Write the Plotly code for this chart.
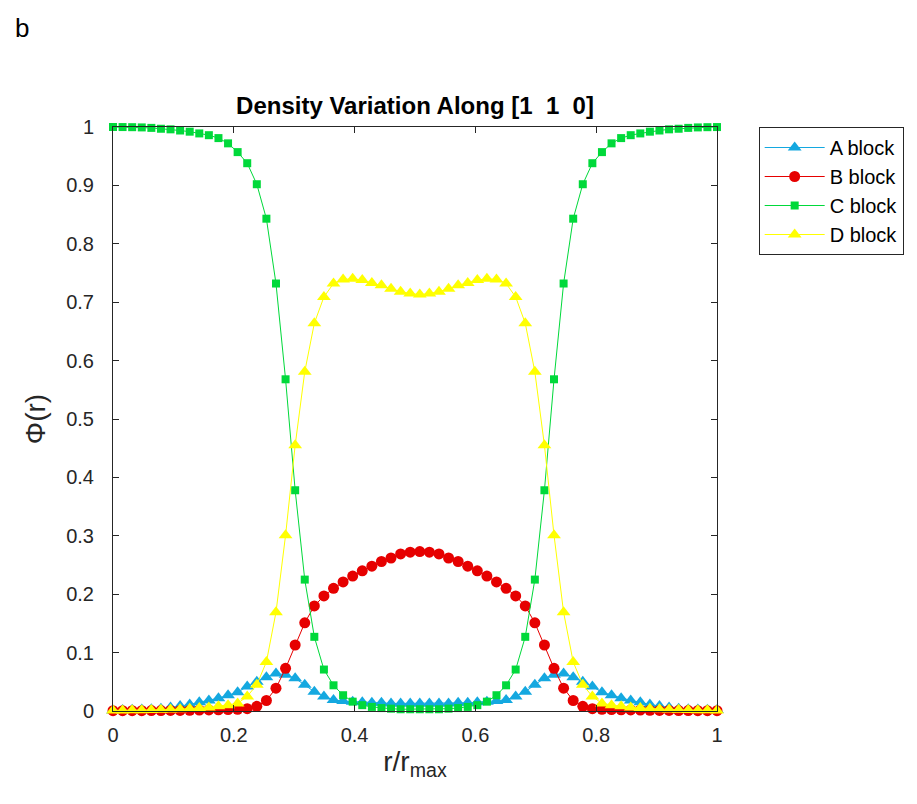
import numpy as np
import plotly.graph_objects as go

# Half profiles (grid points 0..32 of a 64-point periodic line); the rest mirrors i <-> 64-i
A_half = [0.001, 0.0015, 0.002, 0.0025, 0.003, 0.004, 0.006, 0.0085, 0.011, 0.015, 0.018,
          0.022, 0.027, 0.032, 0.042, 0.050, 0.058, 0.064, 0.062, 0.056, 0.045, 0.033,
          0.025, 0.019, 0.017, 0.016, 0.015, 0.014, 0.014, 0.013, 0.013, 0.013, 0.013]
B_half = [0.0005, 0.0005, 0.0005, 0.0006, 0.0007, 0.0008, 0.0009, 0.001, 0.0012, 0.0015, 0.0018,
          0.002, 0.0025, 0.003, 0.004, 0.008, 0.018, 0.039, 0.073, 0.113, 0.151, 0.180,
          0.197, 0.210, 0.221, 0.231, 0.240, 0.248, 0.256, 0.262, 0.269, 0.272, 0.273]
C_half = [1.0, 0.9999, 0.9997, 0.9993, 0.9985, 0.997, 0.996, 0.994, 0.992, 0.989, 0.986,
          0.981, 0.972, 0.957, 0.938, 0.902, 0.843, 0.732, 0.568, 0.378, 0.225, 0.127,
          0.071, 0.044, 0.027, 0.016, 0.010, 0.007, 0.005, 0.004, 0.003, 0.003, 0.003]
D_half = [0.001, 0.001, 0.0012, 0.0014, 0.0016, 0.002, 0.0025, 0.003, 0.004, 0.005, 0.006,
          0.008, 0.010, 0.013, 0.025, 0.045, 0.084, 0.169, 0.301, 0.455, 0.581, 0.664,
          0.709, 0.732, 0.739, 0.740, 0.738, 0.733, 0.729, 0.723, 0.718, 0.715, 0.713]

x_ticks = [0, 0.2, 0.4, 0.6, 0.8, 1]
x_tick_text = ["0", "0.2", "0.4", "0.6", "0.8", "1"]
y_ticks = [0, 0.1, 0.2, 0.3, 0.4, 0.5, 0.6, 0.7, 0.8, 0.9, 1]
y_tick_text = ["0", "0.1", "0.2", "0.3", "0.4", "0.5", "0.6", "0.7", "0.8", "0.9", "1"]

N = 64
r = np.arange(N) / (N - 1)

def full(half):
    return [half[i] if i <= 32 else half[64 - i] for i in range(N)]

series = [
    ("A block", full(A_half), "#14A8E0", "triangle-up", 12),
    ("B block", full(B_half), "#E60000", "circle", 11),
    ("C block", full(C_half), "#00D93A", "square", 8),
    ("D block", full(D_half), "#FFFF00", "triangle-up", 12),
]

FONT = "Liberation Sans, Arial, Helvetica"

fig = go.Figure()
for name, vals, col, sym, sz in series:
    fig.add_trace(go.Scatter(
        x=r, y=vals, name=name, mode="lines+markers",
        line=dict(color=col, width=1),
        marker=dict(symbol=sym, size=sz, color=col, line=dict(width=0)),
        cliponaxis=False,
    ))

axis_common = dict(
    showline=True, linecolor="#262626", linewidth=1, mirror="ticks",
    ticks="inside", ticklen=6, tickcolor="#262626", showgrid=False, zeroline=False,
    tickfont=dict(family=FONT, size=20, color="#262626"),
)

fig.update_layout(
    width=917, height=804,
    margin=dict(l=113, r=200, t=127, b=93),
    plot_bgcolor="white", paper_bgcolor="white",
    title=dict(text="<b>Density Variation Along [1\u00a0\u00a01\u00a0\u00a00]</b>",
               x=0.5, xref="paper", xanchor="center",
               y=1, yref="paper", yanchor="bottom", pad=dict(b=13),
               font=dict(family=FONT, size=24, color="black")),
    xaxis=dict(range=[0, 1], tickvals=x_ticks, ticktext=x_tick_text, ticklabelstandoff=6,
               title=dict(text="r/r<sub>max</sub>", standoff=6,
                          font=dict(family=FONT, size=28, color="#262626")),
               **axis_common),
    yaxis=dict(range=[0, 1], tickvals=y_ticks, ticktext=y_tick_text, ticklabelstandoff=14,
               title=dict(text="Φ(r)", standoff=12,
                          font=dict(family=FONT, size=28, color="#262626")),
               **axis_common),
    legend=dict(x=1.069, y=1.0, xanchor="left", yanchor="top",
                bordercolor="#262626", borderwidth=1, bgcolor="white",
                font=dict(family=FONT, size=20, color="black"),
                tracegroupgap=0, itemwidth=60),
    showlegend=True,
)

fig.add_annotation(text="b", xref="paper", yref="paper", x=-0.165, y=1.169,
                   xanchor="left", yanchor="middle", showarrow=False,
                   font=dict(family=FONT, size=26, color="black"))

fig.write_html("out.html")
